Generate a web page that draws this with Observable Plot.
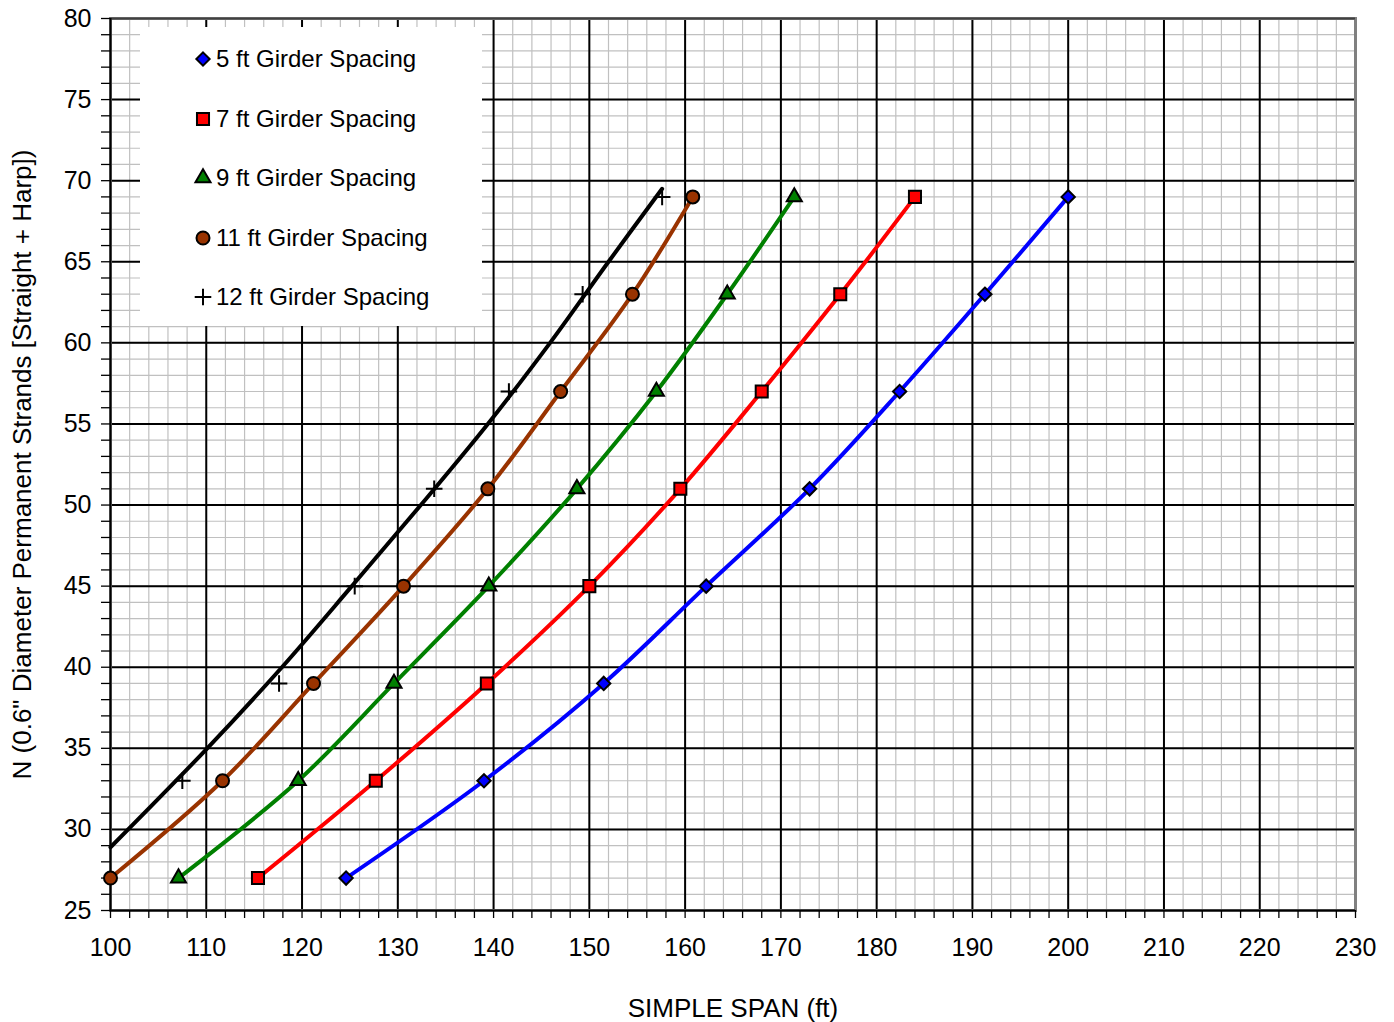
<!DOCTYPE html>
<html>
<head>
<meta charset="utf-8">
<script src="https://cdn.jsdelivr.net/npm/d3@7"></script>
<script src="https://cdn.jsdelivr.net/npm/@observablehq/plot@0.6"></script>
<style>
  body { margin: 0; background: #fff; font-family: "Liberation Sans", Arial, sans-serif; }
  #chart { position: relative; width: 1394px; height: 1022px; }
  #legend { position: absolute; left: 140px; top: 27px; width: 342px; height: 299px; background: #fff; }
  .item { position: absolute; left: 53px; height: 30px; display: flex; align-items: center; font-size: 24px; color: #000; white-space: nowrap; }
  .item svg { width: 20px; height: 20px; margin-right: 3px; overflow: visible; }
</style>
</head>
<body>
<div id="chart"><div id="legend"></div></div>
<script>
// Number of 0.6" strands (same for every girder spacing)
const strandCounts = [27, 33, 39, 45, 51, 57, 63, 69];

// Maximum simple span (ft) for each strand count, by girder spacing
const span5  = [124.6, 139.0, 151.5, 162.2, 173.0, 182.4, 191.3, 200.0];
const span7  = [115.4, 127.7, 139.3, 150.0, 159.5, 168.0, 176.2, 184.0];
const span9  = [107.1, 119.6, 129.6, 139.5, 148.7, 157.0, 164.4, 171.4];
const span11 = [100.0, 111.7, 121.2, 130.6, 139.4, 147.0, 154.5, 160.8];
const span12 = [null, 107.5, 117.6, 125.5, 133.8, 141.6, 149.3, 157.6];

// Fitted curve drawn for the 12 ft spacing
const fit12Span = [100.0, 110.1, 117.9, 125.2, 132.4, 139.4, 145.9, 152.0, 157.6];
const fit12N    = [28.9, 35, 40, 45, 50, 55, 60, 65, 69.5];

// Axis ticks
const xTicks = [100, 110, 120, 130, 140, 150, 160, 170, 180, 190, 200, 210, 220, 230];
const yTicks = [25, 30, 35, 40, 45, 50, 55, 60, 65, 70, 75, 80];
const xMinor = d3.range(100, 231, 2);
const yMinor = d3.range(25, 81, 1);

const xTitle = "SIMPLE SPAN (ft)";
const yTitle = "N (0.6\" Diameter Permanent Strands [Straight + Harp])";

const seriesNames = ["5 ft Girder Spacing", "7 ft Girder Spacing", "9 ft Girder Spacing", "11 ft Girder Spacing", "12 ft Girder Spacing"];

const styles = [
  {spans: span5,  color: "#0000ff", symbol: "diamond2", r: 6.0},
  {spans: span7,  color: "#ff0000", symbol: "square",   r: 6.8},
  {spans: span9,  color: "#008000", symbol: "triangle", r: 5.6},
  {spans: span11, color: "#993300", symbol: "circle",   r: 6.5},
  {spans: span12, color: "#000000", symbol: "plus",     r: 5.4}
];

const rowsFor = spans => strandCounts
  .map((n, i) => ({span: spans[i], n}))
  .filter(d => d.span != null);

const fit12 = fit12Span.map((s, i) => ({span: s, n: fit12N[i]}));

const lineMarks = styles.slice(0, 4).map(s =>
  Plot.line(rowsFor(s.spans), {x: "span", y: "n", stroke: s.color, strokeWidth: 4, curve: "catmull-rom"})
);
lineMarks.push(Plot.line(fit12, {x: "span", y: "n", stroke: "#000", strokeWidth: 4, curve: "catmull-rom"}));

const dotMarks = styles.map(s => s.symbol === "plus"
  ? Plot.dot(rowsFor(s.spans), {x: "span", y: "n", symbol: "plus", r: s.r, stroke: "#000", strokeWidth: 2})
  : Plot.dot(rowsFor(s.spans), {x: "span", y: "n", symbol: s.symbol, r: s.r, fill: s.color, stroke: "#000", strokeWidth: 2})
);

const chart = Plot.plot({
  width: 1394,
  height: 1022,
  marginLeft: 110,
  marginRight: 39,
  marginTop: 18,
  marginBottom: 112,
  x: {domain: [100, 230]},
  y: {domain: [25, 80]},
  style: {fontFamily: "'Liberation Sans', Arial, sans-serif", background: "#fff", color: "#000"},
  marks: [
    Plot.gridX(xMinor, {stroke: "#c0c0c0", strokeOpacity: 1, strokeWidth: 1.2}),
    Plot.gridY(yMinor, {stroke: "#c0c0c0", strokeOpacity: 1, strokeWidth: 1.2}),
    Plot.gridX(xTicks, {stroke: "#000", strokeOpacity: 1, strokeWidth: 2}),
    Plot.gridY(yTicks, {stroke: "#000", strokeOpacity: 1, strokeWidth: 2}),
    Plot.frame({stroke: "#808080", strokeWidth: 3}),
    Plot.ruleY([80], {stroke: "#404040", strokeWidth: 2}),
    Plot.ruleX([100], {stroke: "#000", strokeWidth: 2}),
    Plot.ruleY([25], {stroke: "#000", strokeWidth: 2}),
    Plot.axisX(xMinor, {tickSize: 8, tickFormat: () => "", stroke: "#000", strokeWidth: 1.3, label: null}),
    Plot.axisY(yMinor, {tickSize: 9, tickFormat: () => "", stroke: "#000", strokeWidth: 1.3, label: null}),
    Plot.axisX(xTicks, {tickSize: 0, tickPadding: 28, fontSize: 25, label: null}),
    Plot.axisY(yTicks, {tickSize: 0, tickPadding: 19, fontSize: 25, label: null}),
    ...lineMarks,
    ...dotMarks,
    Plot.text([xTitle], {frameAnchor: "bottom", dy: 106, fontSize: 26, fill: "#000"}),
    Plot.text([yTitle], {frameAnchor: "left", dx: -88, rotate: -90, textAnchor: "middle", fontSize: 26, fill: "#000"})
  ]
});

const wrap = document.getElementById("chart");
wrap.insertBefore(chart, wrap.firstChild);

// Legend box in the upper-left of the plot
const legend = d3.select("#legend");
const rowCenters = [32, 92, 151, 211, 270];
styles.forEach((s, i) => {
  const item = legend.append("div").attr("class", "item").style("top", (rowCenters[i] - 15) + "px");
  const svg = item.append("svg").attr("viewBox", "-10 -10 20 20");
  const symType = {diamond2: d3.symbolDiamond2, square: d3.symbolSquare, triangle: d3.symbolTriangle, circle: d3.symbolCircle, plus: d3.symbolPlus}[s.symbol];
  const path = svg.append("path").attr("d", d3.symbol(symType, Math.PI * s.r * s.r)());
  if (s.symbol === "plus") path.attr("fill", "none").attr("stroke", "#000").attr("stroke-width", 2);
  else path.attr("fill", s.color).attr("stroke", "#000").attr("stroke-width", 2);
  item.append("span").text(seriesNames[i]);
});
</script>
</body>
</html>
